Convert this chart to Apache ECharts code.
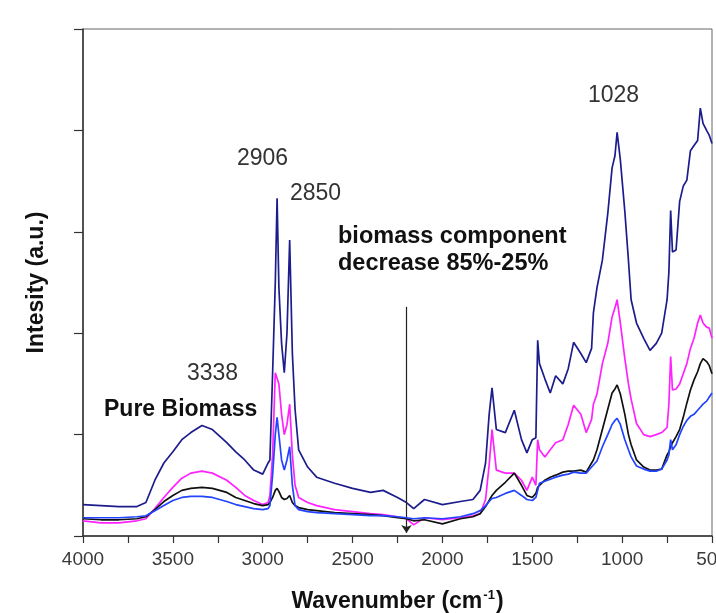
<!DOCTYPE html>
<html><head><meta charset="utf-8">
<script src="https://cdn.jsdelivr.net/npm/echarts@6/dist/echarts.min.js"></script>
<style>html,body{margin:0;padding:0;background:#fff}#c{width:716px;height:613px}</style>
</head><body><div id="c"></div>
<script>
const wavenumbers = [4000,3900,3800,3700,3650,3600,3550,3500,3450,3400,3338,3280,3200,3150,3100,3050,3000,2970,2960,2945,2930,2920,2910,2895,2880,2865,2850,2835,2820,2800,2750,2700,2600,2500,2400,2330,2250,2200,2160,2100,2000,1900,1830,1790,1760,1740,1724,1700,1650,1600,1560,1530,1500,1480,1470,1460,1430,1400,1370,1330,1300,1270,1230,1200,1170,1160,1140,1110,1080,1056,1040,1028,1010,985,965,950,920,880,845,810,780,750,740,730,720,700,680,660,640,620,600,580,565,550,530,515,500];
const pureBiomass = [0.31,0.30,0.29,0.29,0.33,0.55,0.72,0.83,0.95,1.02,1.09,1.05,0.92,0.83,0.75,0.65,0.61,0.72,0.75,1.6,2.5,3.33,2.45,1.9,1.61,2.0,2.92,1.8,1.25,0.85,0.68,0.58,0.52,0.47,0.43,0.45,0.38,0.33,0.27,0.36,0.31,0.34,0.36,0.45,0.72,1.2,1.46,1.05,1.02,1.24,0.95,0.82,0.95,0.97,1.93,1.7,1.55,1.41,1.58,1.5,1.65,1.91,1.8,1.71,1.85,2.2,2.45,2.72,3.18,3.63,3.75,3.98,3.71,3.2,2.72,2.33,2.1,1.95,1.83,1.9,2.0,2.33,2.6,3.21,2.8,2.82,3.3,3.45,3.51,3.8,3.85,3.9,4.22,4.07,4.0,3.95,3.87];
const sampleMagenta = [0.15,0.13,0.13,0.15,0.17,0.27,0.38,0.48,0.57,0.62,0.64,0.62,0.55,0.48,0.40,0.35,0.31,0.33,0.40,0.80,1.61,1.60,1.50,1.20,1.00,1.10,1.30,0.80,0.50,0.38,0.33,0.30,0.26,0.24,0.22,0.21,0.19,0.17,0.11,0.18,0.16,0.18,0.20,0.22,0.36,0.70,1.05,0.65,0.62,0.62,0.55,0.45,0.58,0.50,0.95,0.85,0.78,0.85,0.92,0.95,1.10,1.29,1.20,1.02,1.15,1.30,1.40,1.70,1.90,2.16,2.25,2.33,2.10,1.75,1.50,1.35,1.11,1.00,0.98,1.00,1.02,1.07,1.30,1.77,1.44,1.45,1.50,1.60,1.70,1.85,1.95,2.10,2.18,2.10,2.06,2.05,1.95];
const sampleBlack = [0.17,0.16,0.16,0.17,0.19,0.26,0.34,0.40,0.45,0.47,0.48,0.47,0.43,0.38,0.35,0.32,0.30,0.31,0.33,0.38,0.45,0.47,0.44,0.38,0.36,0.37,0.40,0.33,0.30,0.28,0.26,0.25,0.23,0.22,0.21,0.20,0.18,0.17,0.15,0.16,0.12,0.17,0.19,0.22,0.29,0.35,0.40,0.45,0.53,0.62,0.50,0.40,0.38,0.42,0.48,0.50,0.55,0.58,0.60,0.63,0.64,0.64,0.65,0.63,0.72,0.75,0.85,1.05,1.25,1.41,1.45,1.49,1.40,1.20,1.00,0.90,0.75,0.68,0.65,0.65,0.66,0.80,0.83,0.88,0.92,0.98,1.05,1.17,1.31,1.44,1.54,1.62,1.70,1.75,1.72,1.68,1.60];
const sampleBlue = [0.18,0.18,0.18,0.19,0.20,0.25,0.30,0.35,0.38,0.39,0.39,0.38,0.34,0.31,0.29,0.27,0.26,0.27,0.30,0.60,1.00,1.17,1.00,0.75,0.65,0.75,0.88,0.50,0.30,0.26,0.24,0.23,0.22,0.21,0.20,0.20,0.19,0.18,0.17,0.18,0.17,0.19,0.22,0.25,0.30,0.34,0.37,0.38,0.42,0.45,0.40,0.36,0.35,0.38,0.45,0.52,0.54,0.56,0.58,0.60,0.61,0.63,0.62,0.62,0.68,0.70,0.74,0.88,1.00,1.10,1.14,1.16,1.10,0.95,0.85,0.78,0.69,0.66,0.64,0.64,0.66,0.75,0.80,0.95,0.85,0.90,1.00,1.08,1.14,1.18,1.20,1.24,1.27,1.30,1.33,1.37,1.41];
const xTicks = {min: 500, max: 4000, interval: 500};
const arrowAt = 2200;

const pair = ys => wavenumbers.map((x, i) => [x, ys[i]]);
const FONT = 'Liberation Sans, Arial, sans-serif';
const chart = echarts.init(document.getElementById('c'));
const lineSeries = (name, ys, color, z) => ({
  name, type: 'line', data: pair(ys), showSymbol: false, symbol: 'none',
  lineStyle: {color, width: 1.7}, z, animation: false
});
const series = [
  lineSeries('Pure Biomass', pureBiomass, '#1c1c8c', 2),
  lineSeries('Magenta', sampleMagenta, '#ff22ff', 3),
  lineSeries('Black', sampleBlack, '#111111', 4),
  lineSeries('Blue', sampleBlue, '#2244ff', 5)
];
series[0].markLine = {
  silent: true, symbol: ['none', 'arrow'], symbolSize: 8, label: {show: false},
  lineStyle: {color: '#222', width: 1.2, type: 'solid'},
  data: [[{coord: [arrowAt, 2.26]}, {coord: [arrowAt, 0.03]}]]
};
const txt = (left, top, text, opts) => ({
  type: 'text', left, top,
  style: Object.assign({text, fill: '#333', font: '23px ' + FONT}, opts || {})
});
chart.setOption({
  animation: false,
  grid: {left: 83, right: 4, top: 29, bottom: 77, show: true, borderColor: '#666', borderWidth: 1, containLabel: false, outerBoundsMode: 'none'},
  xAxis: {
    type: 'value', inverse: true, min: xTicks.min, max: xTicks.max, interval: xTicks.interval,
    splitLine: {show: false},
    axisLine: {lineStyle: {color: '#333', width: 1.5}},
    axisTick: {length: 7, lineStyle: {color: '#333', width: 1.2}},
    minorTick: {show: true, splitNumber: 2, length: 7, lineStyle: {color: '#333', width: 1.2}},
    axisLabel: {color: '#3a3a3a', fontSize: 19, fontFamily: FONT, margin: 14, formatter: v => String(v), hideOverlap: false},
    name: '{b|Wavenumber (cm}{s|-1}{b|)}', nameLocation: 'middle', nameGap: 53,
    nameTextStyle: {
      rich: {
        b: {fontSize: 23, fontWeight: 'bold', color: '#111', fontFamily: FONT, lineHeight: 26},
        s: {fontSize: 13, fontWeight: 'bold', color: '#111', fontFamily: FONT, lineHeight: 26, verticalAlign: 'top', padding: [0, 1, 12, 1]}
      }
    }
  },
  yAxis: {
    type: 'value', min: 0, max: 5, interval: 1,
    splitLine: {show: false},
    axisLine: {lineStyle: {color: '#333', width: 1.5}},
    axisTick: {length: 9, lineStyle: {color: '#333', width: 1.2}},
    axisLabel: {show: false},
    name: 'Intesity (a.u.)', nameLocation: 'middle', nameGap: 35, nameRotate: 90,
    nameTextStyle: {fontSize: 23, fontWeight: 'bold', color: '#111', fontFamily: FONT}
  },
  graphic: [
    txt(187, 362, '3338'),
    txt(237, 147, '2906'),
    txt(290, 182, '2850'),
    txt(588, 84, '1028'),
    txt(104, 398, 'Pure Biomass', {fill: '#111', font: 'bold 23px ' + FONT}),
    txt(338, 225, 'biomass component', {fill: '#111', font: 'bold 23.5px ' + FONT}),
    txt(338, 252, 'decrease 85%-25%', {fill: '#111', font: 'bold 23.5px ' + FONT})
  ],
  series
});
</script></body></html>
